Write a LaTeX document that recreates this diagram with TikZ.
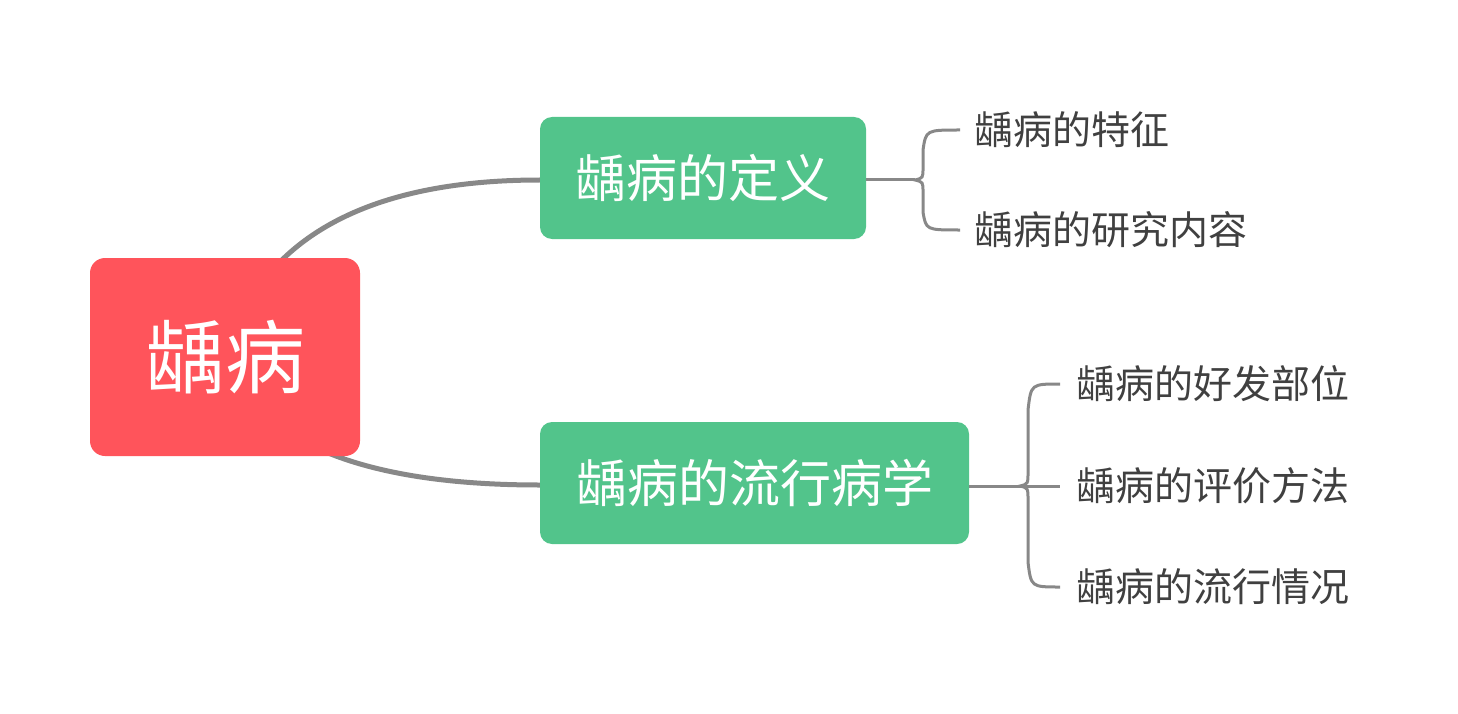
\documentclass[tikz,border=0pt]{standalone}
\usepackage{fontspec}
\newfontfamily\cjk{Noto Sans CJK SC}
\usetikzlibrary{calc,backgrounds}
\definecolor{rootred}{RGB}{255,84,91}
\definecolor{midgreen}{RGB}{82,196,139}
\definecolor{linegrey}{RGB}{136,136,136}
\definecolor{leaftext}{RGB}{64,64,64}
\begin{document}
\begin{tikzpicture}[x=1pt,y=-1pt,
  rootbox/.style={fill=rootred,rounded corners=15pt,text=white,font=\cjk\fontsize{80}{82}\selectfont,inner sep=0},
  midbox/.style={fill=midgreen,rounded corners=12pt,text=white,font=\cjk\fontsize{51}{54}\selectfont,inner sep=0},
  leaf/.style={anchor=west,inner sep=0,text=leaftext,font=\cjk\fontsize{39}{42}\selectfont},
  mainline/.style={draw=linegrey,line width=5pt},
  brace/.style={draw=linegrey,line width=3pt}]
\useasboundingbox (0,0) rectangle (1458,714);
\node[rootbox,minimum width=270pt,minimum height=198pt] (root) at (225,357) {龋病};
\node[midbox,minimum width=326pt,minimum height=122pt] (m1) at (703,178) {龋病的定义};
\node[midbox,minimum width=429pt,minimum height=122pt] (m2) at (754.5,483) {龋病的流行病学};
\node[leaf] (l1) at (974,130) {龋病的特征};
\node[leaf] (l2) at (974,230) {龋病的研究内容};
\node[leaf] (l3) at (1076,384) {龋病的好发部位};
\node[leaf] (l4) at (1076,486) {龋病的评价方法};
\node[leaf] (l5) at (1076,587) {龋病的流行情况};
\begin{scope}[on background layer]
\draw[mainline] (root.center) .. controls (262,230) and (380,180) .. ($(m1.west)+(0,2)$);
\draw[mainline] (root.center) .. controls (260,450) and (380,485) .. ($(m2.west)+(0,2)$);
\end{scope}
% brace 1
\coordinate (b1) at (915,180);
\draw[brace] (m1.east |- b1) -- (b1);
\draw[brace] ($(l1.west)+(-14,0)$) .. controls (926,130) .. (923,150) -- (923,168) .. controls (923,178) .. (b1)
  .. controls (923,182) .. (923,192) -- (923,212) .. controls (926,230) .. ($(l2.west)+(-14,0)$);
% brace 2
\coordinate (b2) at (1020,486);
\draw[brace] (m2.east |- b2) -- ($(l4.west)+(-16,0)$);
\draw[brace] ($(l3.west)+(-16,0)$) .. controls (1031,384) .. (1028,410) -- (1028,472) .. controls (1028,484) .. (b2)
  .. controls (1028,488) .. (1028,500) -- (1028,562) .. controls (1031,587) .. ($(l5.west)+(-16,0)$);
\end{tikzpicture}
\end{document}
